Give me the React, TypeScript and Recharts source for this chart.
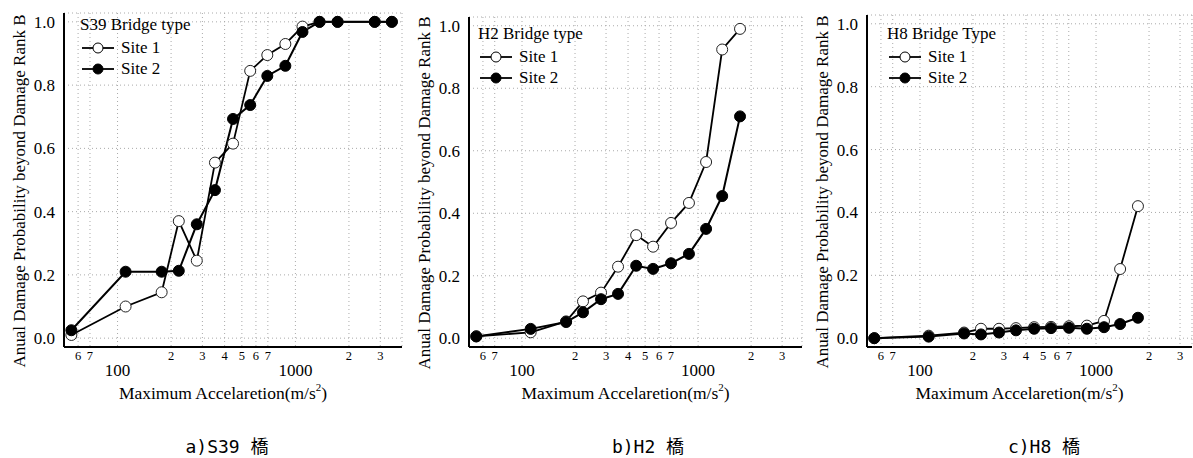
import React from 'react';
import { CartesianGrid, Legend, Line, LineChart, XAxis, YAxis } from 'recharts';

// maximum acceleration values (log axis)
const accelS39 = [55, 111, 177, 221, 279, 353, 446, 557, 695, 878, 1096, 1367, 1727, 2793, 3486];
const s39Site1 = [0.01, 0.1, 0.145, 0.37, 0.245, 0.555, 0.615, 0.845, 0.895, 0.93, 0.985, 1.0, 1.0, 1.0, 1.0];
const s39Site2 = [0.025, 0.21, 0.21, 0.213, 0.36, 0.468, 0.693, 0.737, 0.829, 0.861, 0.968, 1.0, 1.0, 1.0, 1.0];

const accelH = [55, 112, 178, 222, 281, 351, 445, 555, 702, 887, 1110, 1370, 1730];
const h2Site1 = [0.006, 0.019, 0.054, 0.118, 0.146, 0.229, 0.33, 0.293, 0.369, 0.433, 0.564, 0.924, 0.99];
const h2Site2 = [0.006, 0.03, 0.052, 0.083, 0.125, 0.142, 0.232, 0.222, 0.24, 0.27, 0.35, 0.455, 0.71];
const h8Site1 = [0.0, 0.008, 0.018, 0.03, 0.03, 0.032, 0.035, 0.036, 0.038, 0.04, 0.055, 0.22, 0.42];
const h8Site2 = [0.0, 0.005, 0.015, 0.012, 0.018, 0.025, 0.03, 0.032, 0.033, 0.03, 0.035, 0.045, 0.065];

const seriesNames = ['Site 1', 'Site 2'];
const xTicks = [60, 70, 100, 200, 300, 400, 500, 600, 700, 1000, 2000, 3000];
const yTicks = [0, 0.2, 0.4, 0.6, 0.8, 1.0];

const FONT = "'Liberation Serif', 'Times New Roman', serif";
const CHART_H = 420;

const XTick = (props: any) => {
  const { x, y, payload } = props;
  const v = payload.value;
  if (v === 100 || v === 1000) {
    return (
      <text x={x} y={y + 25} textAnchor="middle" fontSize={17} style={{ fontFamily: FONT }} fill="#000">
        {v}
      </text>
    );
  }
  return (
    <text x={x} y={y + 9} textAnchor="middle" fontSize={12.5} style={{ fontFamily: FONT }} fill="#000">
      {String(v)[0]}
    </text>
  );
};

// legend drawn as one small svg: title line, then a row per series
const makeLegend = (title: string) => () => (
  <svg width={150} height={66} style={{ display: 'block' }}>
    <text x={0} y={15} fontSize={17} style={{ fontFamily: FONT }} fill="#000">{title}</text>
    {seriesNames.map((name, i) => {
      const cy = 33 + i * 21;
      return (
        <g key={name}>
          <line x1={2} y1={cy} x2={34} y2={cy} stroke="#000" strokeWidth={1.8} />
          <circle cx={18} cy={cy} r={5} fill={i === 0 ? '#fff' : '#000'} stroke="#000" strokeWidth={1} />
          <text x={41} y={cy + 5} fontSize={17} style={{ fontFamily: FONT }} fill="#000">{name}</text>
        </g>
      );
    })}
  </svg>
);

type PanelProps = {
  left: number;
  width: number;
  plotLeft: number;
  plotRight: number;
  plotTop: number;
  plotBottom: number;
  xMax: number;
  title: string;
  legendLeft: number;
  legendTop: number;
  accel: number[];
  site1: number[];
  site2: number[];
};

const Panel = (p: PanelProps) => {
  const data = p.accel.map((x, i) => ({ x, s1: p.site1[i], s2: p.site2[i] }));
  return (
    <div style={{ position: 'absolute', left: p.left, top: 0 }}>
      <LineChart
        width={p.width}
        height={CHART_H}
        data={data}
        margin={{ top: p.plotTop, left: p.plotLeft - 40, right: p.plotRight, bottom: CHART_H - p.plotBottom - 30 }}
      >
        <CartesianGrid stroke="#aaa" strokeDasharray="1 3" />
        <XAxis
          dataKey="x"
          type="number"
          scale="log"
          domain={[50, p.xMax]}
          allowDataOverflow
          ticks={xTicks}
          interval={0}
          tick={<XTick />}
          tickLine={false}
          tickSize={4}
          tickMargin={0}
          height={30}
          axisLine={{ stroke: '#000', strokeWidth: 2 }}
          label={{
            content: (lp: any) => {
              const vb = lp.viewBox;
              return (
                <text x={vb.x + vb.width / 2 - 10} y={vb.y + 52} textAnchor="middle" fontSize={17.5} style={{ fontFamily: FONT }} fill="#000">
                  Maximum Accelaretion(m/s
                  <tspan dy={-8} fontSize={11}>2</tspan>
                  <tspan dy={8}>)</tspan>
                </text>
              );
            },
          }}
        />
        <XAxis xAxisId="top" orientation="top" type="number" domain={[0, 1]} height={0} tick={false} tickLine={false} axisLine={{ stroke: '#000', strokeWidth: 2 }} />
        <YAxis
          type="number"
          domain={[-0.028, 1.028]}
          allowDataOverflow
          ticks={yTicks}
          interval={0}
          tickFormatter={(v: number) => v.toFixed(1)}
          tick={{ fontSize: 17, fontFamily: FONT, fill: '#000' }}
          tickLine={false}
          tickSize={6}
          tickMargin={3}
          width={40}
          axisLine={{ stroke: '#000', strokeWidth: 2 }}
          label={{
            content: (lp: any) => {
              const vb = lp.viewBox;
              const cx = vb.x - 5;
              const cy = vb.y + vb.height / 2 + 11;
              return (
                <text x={cx} y={cy} transform={`rotate(-90 ${cx} ${cy})`} textAnchor="middle" dominantBaseline="central" fontSize={17} style={{ fontFamily: FONT }} fill="#000">
                  Anual Damage Probability beyond Damage Rank B
                </text>
              );
            },
          }}
        />
        <YAxis yAxisId="right" orientation="right" type="number" domain={[0, 1]} width={0} tick={false} tickLine={false} axisLine={{ stroke: '#000', strokeWidth: 2 }} />
        <Legend
          layout="horizontal"
          verticalAlign="middle"
          align="center"
          content={makeLegend(p.title)}
          wrapperStyle={{ left: p.legendLeft, top: p.legendTop, width: 'auto', height: 'auto' }}
        />
        <Line
          dataKey="s1"
          name={seriesNames[0]}
          stroke="#000"
          strokeWidth={1.8}
          dot={{ r: 5.5, fill: '#fff', stroke: '#222', strokeWidth: 1 }}
          isAnimationActive={false}
        />
        <Line
          dataKey="s2"
          name={seriesNames[1]}
          stroke="#000"
          strokeWidth={2}
          dot={{ r: 5.5, fill: '#000', stroke: '#000', strokeWidth: 1 }}
          isAnimationActive={false}
        />
      </LineChart>
    </div>
  );
};

const captionStyle: React.CSSProperties = {
  position: 'absolute',
  top: 436,
  width: 160,
  textAlign: 'center',
  fontFamily: "'DejaVu Sans Mono', 'Noto Sans CJK JP', monospace",
  fontSize: 18,
  lineHeight: '22px',
  color: '#000',
  whiteSpace: 'pre',
};

export default function App() {
  return (
    <div style={{ position: 'absolute', left: 0, top: 0, width: 1193, height: 458, background: '#fff', overflow: 'hidden' }}>
      <Panel left={0} width={410} plotLeft={64} plotRight={8} plotTop={13} plotBottom={347} xMax={3975}
        title="S39 Bridge type" legendLeft={80} legendTop={15} accel={accelS39} site1={s39Site1} site2={s39Site2} />
      <Panel left={405} width={400} plotLeft={64} plotRight={3} plotTop={17} plotBottom={347} xMax={3890}
        title="H2 Bridge type" legendLeft={73} legendTop={24} accel={accelH} site1={h2Site1} site2={h2Site2} />
      <Panel left={805} width={388} plotLeft={62} plotRight={1} plotTop={15} plotBottom={347} xMax={3508}
        title="H8 Bridge Type" legendLeft={82} legendTop={24} accel={accelH} site1={h8Site1} site2={h8Site2} />
      <div style={{ ...captionStyle, left: 227 - 80 }}>a)S39 橋</div>
      <div style={{ ...captionStyle, left: 648 - 80 }}>b)H2 橋</div>
      <div style={{ ...captionStyle, left: 1044 - 80 }}>c)H8 橋</div>
    </div>
  );
}
